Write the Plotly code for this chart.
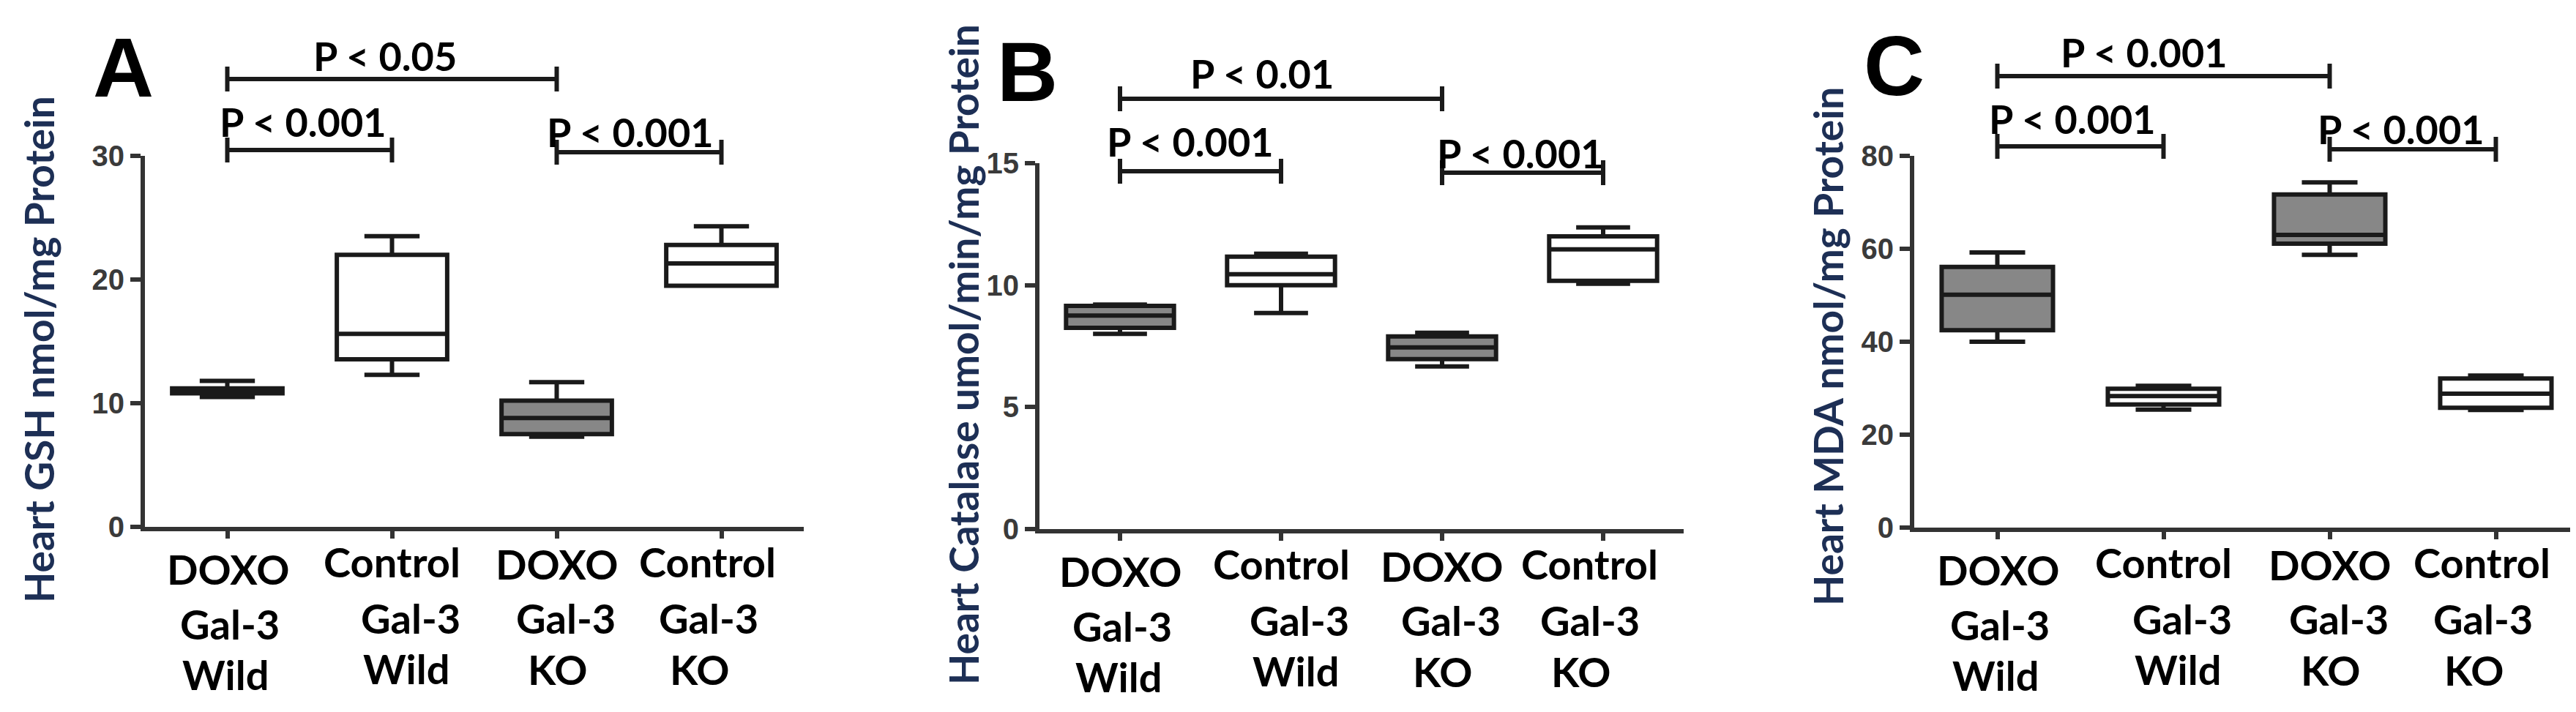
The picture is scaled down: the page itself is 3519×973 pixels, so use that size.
import plotly.graph_objects as go

W, H = 3519, 973

# ---------------- data ----------------
categories = ["DOXO Gal-3 Wild", "Control Gal-3 Wild", "DOXO Gal-3 KO", "Control Gal-3 KO"]
label_lines = [["DOXO", "Gal-3", "Wild"],
               ["Control", "Gal-3", "Wild"],
               ["DOXO", "Gal-3", "KO"],
               ["Control", "Gal-3", "KO"]]

# Panel A: Heart GSH (nmol/mg protein)
gsh_min = [10.5, 12.3, 7.3, 19.5]
gsh_q1 = [10.8, 13.55, 7.5, 19.5]
gsh_med = [11.0, 15.6, 8.8, 21.3]
gsh_q3 = [11.2, 22.0, 10.2, 22.8]
gsh_max = [11.8, 23.5, 11.7, 24.3]
gsh_ticks = [0, 10, 20, 30]

# Panel B: Heart Catalase (umol/min/mg protein)
cat_min = [8.0, 8.86, 6.67, 10.06]
cat_q1 = [8.25, 10.0, 6.97, 10.18]
cat_med = [8.75, 10.45, 7.45, 11.47]
cat_q3 = [9.15, 11.17, 7.9, 12.0]
cat_max = [9.2, 11.29, 8.05, 12.37]
cat_ticks = [0, 5, 10, 15]

# Panel C: Heart MDA (nmol/mg protein)
mda_min = [40.0, 25.4, 58.7, 25.3]
mda_q1 = [42.5, 26.5, 61.1, 25.8]
mda_med = [50.1, 28.3, 63.0, 28.8]
mda_q3 = [56.1, 29.9, 71.7, 32.1]
mda_max = [59.2, 30.5, 74.3, 32.7]
mda_ticks = [0, 20, 40, 60, 80]

# significance comparisons (category index a, index b, label)
gsh_comparisons = [(0, 2, "P < 0.05"), (0, 1, "P < 0.001"), (2, 3, "P < 0.001")]
cat_comparisons = [(0, 2, "P < 0.01"), (0, 1, "P < 0.001"), (2, 3, "P < 0.001")]
mda_comparisons = [(0, 2, "P < 0.001"), (0, 1, "P < 0.001"), (2, 3, "P < 0.001")]

# ---------------- style / layout ----------------
GRAY = "#878787"
BOX_LINE = "#1a1a1a"
AXIS = "#333333"
TITLE_COLOR = "#1d2f55"
TXT = "Lato"
LW = 6


def px_x(x):
    return x / W


def px_y(y):
    return 1 - y / H


panels = [
    dict(letter="A", title="Heart GSH nmol/mg Protein",
         stats=(gsh_min, gsh_q1, gsh_med, gsh_q3, gsh_max), ticks=gsh_ticks,
         comps=gsh_comparisons,
         dom_x=(190, 1090), dom_y=(205, 712),
         letter_pos=(160, 84), title_pos=(45, 470),
         bracket_y=[100, 197, 200],
         ptext=[(518, 68), (406, 158), (853, 172)]),
    dict(letter="B", title="Heart Catalase umol/min/mg Protein",
         stats=(cat_min, cat_q1, cat_med, cat_q3, cat_max), ticks=cat_ticks,
         comps=cat_comparisons,
         dom_x=(1412, 2292), dom_y=(215, 715),
         letter_pos=(1395, 90), title_pos=(1308, 477),
         bracket_y=[127, 226, 228],
         ptext=[(1716, 93), (1618, 186), (2069, 202)]),
    dict(letter="C", title="Heart MDA nmol/mg Protein",
         stats=(mda_min, mda_q1, mda_med, mda_q3, mda_max), ticks=mda_ticks,
         comps=mda_comparisons,
         dom_x=(2607, 3515), dom_y=(205, 713),
         letter_pos=(2579, 82), title_pos=(2489, 466),
         bracket_y=[96, 192, 196],
         ptext=[(2921, 64), (2823, 154), (3272, 168)]),
]

# per-line label offsets (px) relative to category tick / axis line
label_dx = [[1, 3, -2], [0, 25, 20], [0, 12, 1], [-19, -18, -30]]
label_dy = [[57, 132, 201], [47, 124, 193], [50, 124, 194], [47, 124, 194]]

fig = go.Figure()
layout = dict(width=W, height=H, autosize=False,
              margin=dict(l=0, r=0, t=0, b=0),
              paper_bgcolor="white", plot_bgcolor="white",
              template="none", showlegend=False, boxmode="overlay")
shapes = []
annotations = []

for k, p in enumerate(panels):
    sfx = "" if k == 0 else str(k + 1)
    xid, yid = "x" + sfx, "y" + sfx
    mn, q1, md, q3, mx = p["stats"]
    for idxs, fill in (([0, 2], GRAY), ([1, 3], "white")):
        fig.add_trace(go.Box(
            x=idxs,
            q1=[q1[i] for i in idxs], median=[md[i] for i in idxs],
            q3=[q3[i] for i in idxs],
            lowerfence=[mn[i] for i in idxs], upperfence=[mx[i] for i in idxs],
            xaxis=xid, yaxis=yid, fillcolor=fill,
            line=dict(color=BOX_LINE, width=LW),
            width=0.67, whiskerwidth=0.5, boxpoints=False,
            hoverinfo="skip", showlegend=False))

    x0, x1 = p["dom_x"]
    y0, y1 = p["dom_y"]
    layout["xaxis" + sfx] = dict(
        domain=[px_x(x0), px_x(x1)], range=[-0.5, 3.5], anchor=yid,
        showgrid=False, zeroline=False, showline=True, linecolor=AXIS, linewidth=LW,
        ticks="outside", ticklen=10, tickwidth=LW, tickcolor=AXIS,
        tickvals=[0, 1, 2, 3], showticklabels=False, fixedrange=True)
    layout["yaxis" + sfx] = dict(
        domain=[px_y(y1), px_y(y0)], range=[0, p["ticks"][-1]], anchor=xid,
        showgrid=False, zeroline=False, showline=True, linecolor=AXIS, linewidth=LW,
        ticks="outside", ticklen=14, tickwidth=LW, tickcolor=AXIS,
        tickvals=p["ticks"], ticktext=[str(t) for t in p["ticks"]],
        tickfont=dict(family="Liberation Sans", size=40, color="#3a3a3a", weight="bold"),
        fixedrange=True)

    # category labels
    for ci, lines in enumerate(label_lines):
        for li, word in enumerate(lines):
            annotations.append(dict(
                text=word, xref=xid, yref="paper",
                x=ci, xshift=label_dx[ci][li], y=px_y(y1 + label_dy[ci][li]),
                showarrow=False, xanchor="center", yanchor="middle",
                font=dict(family=TXT, size=56, color="black", weight="bold")))

    # y-axis title
    tx, ty = p["title_pos"]
    annotations.append(dict(
        text=p["title"], xref="paper", yref="paper",
        x=px_x(tx), y=px_y(ty), textangle=-90, showarrow=False,
        xanchor="center", yanchor="middle",
        font=dict(family=TXT, size=55, color=TITLE_COLOR, weight="bold")))

    # panel letter
    lx, ly = p["letter_pos"]
    annotations.append(dict(
        text=p["letter"], xref="paper", yref="paper",
        x=px_x(lx), y=px_y(ly), showarrow=False, xanchor="center", yanchor="middle",
        font=dict(family="Liberation Sans", size=115, color="black", weight="bold")))

    # significance brackets
    for (a, b, lab), by, (ptx, pty) in zip(p["comps"], p["bracket_y"], p["ptext"]):
        shapes.append(dict(type="line", xref=xid, yref="paper", x0=a, x1=b,
                           y0=px_y(by), y1=px_y(by),
                           line=dict(color=BOX_LINE, width=LW)))
        for xv in (a, b):
            shapes.append(dict(type="line", xref=xid, yref="paper", x0=xv, x1=xv,
                               y0=px_y(by - 17), y1=px_y(by + 17),
                               line=dict(color=BOX_LINE, width=LW)))
        annotations.append(dict(
            text=lab, xref="paper", yref="paper",
            x=px_x(ptx), y=px_y(pty), showarrow=False,
            xanchor="center", yanchor="middle",
            font=dict(family=TXT, size=54, color="black", weight="bold")))

layout["shapes"] = shapes
layout["annotations"] = annotations
fig.update_layout(**layout)
fig.write_html("out.html")
